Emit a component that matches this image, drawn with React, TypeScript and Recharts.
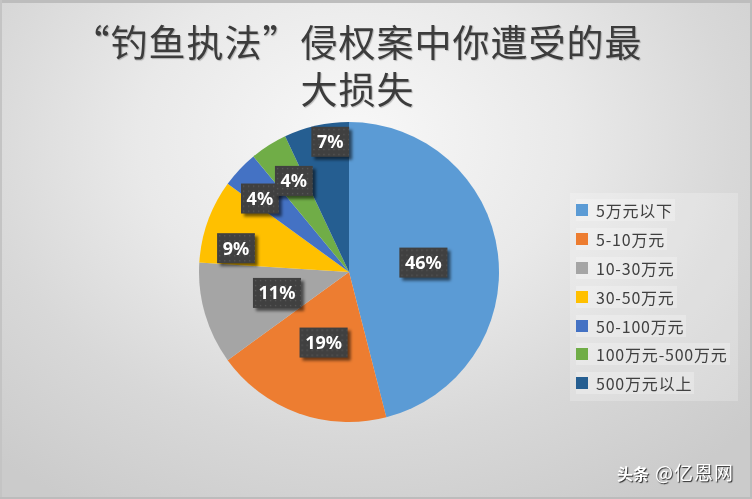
import React from 'react';
import { PieChart, Pie, Legend } from 'recharts';

const categories = ['5万元以下', '5-10万元', '10-30万元', '30-50万元', '50-100万元', '100万元-500万元', '500万元以上'];
const shares = [46, 19, 11, 9, 4, 4, 7];
const sliceColors = ['#5B9BD5', '#ED7D31', '#A5A5A5', '#FFC000', '#4472C4', '#70AD47', '#255E91'];
const titleText = '“钓鱼执法”侵权案中你遭受的最大损失';
const watermarkA = '头条';
const watermarkB = '@亿恩网';

const data = categories.map((name, i) => ({ name, value: shares[i], fill: sliceColors[i] }));

// label placement (Excel best-fit): fraction of outer radius, clockwise angular shift in degrees
const labelRadius = [0.5, 0.5, 0.5, 0.77, 0.77, 0.71, 0.877];
const labelShift = [0, 0, 0, -7.9, -3.7, 1.2, 4.4];

const RAD = Math.PI / 180;
const CJK = "'Noto Sans CJK SC', 'Noto Sans', sans-serif";

function renderLabel(props: any) {
  const { cx, cy, midAngle, outerRadius, percent, index } = props;
  const r = outerRadius * labelRadius[index];
  const a = (midAngle - labelShift[index]) * RAD;
  const x = cx + r * Math.cos(a);
  const y = cy - r * Math.sin(a);
  const text = `${Math.round(percent * 100)}%`;
  const digits = text.length - 1;
  const w = 27.5 + 10.3 * digits;
  const h = 30;
  const bx = x - w / 2;
  const by = y - h / 2;
  return (
    <g key={`lbl-${index}`}>
      <defs>
        <pattern id={`dots${index}`} x={bx} y={by} width={5} height={5} patternUnits="userSpaceOnUse">
          <rect width={5} height={5} fill="#404040" />
          <rect x={2} y={2} width={1.3} height={1.3} fill="#585858" />
        </pattern>
        <filter id={`sh${index}`} x="-30%" y="-30%" width="160%" height="160%">
          <feGaussianBlur stdDeviation={1.6} />
        </filter>
      </defs>
      <rect x={bx + 3} y={by + 3} width={w} height={h} fill="rgba(0,0,0,0.55)" filter={`url(#sh${index})`} />
      <rect x={bx} y={by} width={w} height={h} fill={`url(#dots${index})`} />
      <text
        x={x}
        y={y + 6.5}
        textAnchor="middle"
        fill="#ffffff"
        fontSize={18}
        fontWeight={700}
        fontFamily="'Noto Sans', 'DejaVu Sans', sans-serif"
      >
        {text}
      </text>
    </g>
  );
}

function renderLegend(props: any) {
  const payload = [...(props.payload || [])].sort(
    (p: any, q: any) => categories.indexOf(p.value) - categories.indexOf(q.value)
  );
  return (
    <div
      style={{
        width: 168,
        height: 208,
        boxSizing: 'border-box',
        padding: '3px 0 0 6px',
        background: 'rgba(255,255,255,0.22)',
      }}
    >
      {payload.map((entry: any, i: number) => (
        <div key={`leg-${i}`} style={{ height: 28.8, display: 'flex', alignItems: 'center' }}>
          <div
            style={{
              display: 'inline-flex',
              alignItems: 'center',
              height: 22,
              paddingRight: 2,
              background: 'rgba(255,255,255,0.25)',
            }}
          >
            <span
              style={{
                display: 'inline-block',
                width: 12,
                height: 12,
                background: entry.color,
                marginRight: 8,
              }}
            />
            <span
              style={{
                fontSize: 16,
                letterSpacing: 0.8,
                color: '#404040',
                fontFamily: CJK,
                lineHeight: '22px',
                whiteSpace: 'nowrap',
              }}
            >
              {entry.value}
            </span>
          </div>
        </div>
      ))}
    </div>
  );
}

export default function App() {
  return (
    <div
      style={{
        position: 'fixed',
        left: 0,
        top: 0,
        width: 752,
        height: 499,
        overflow: 'hidden',
        background:
          'radial-gradient(ellipse 72% 85% at 47% 28%, #f8f8f8 0%, #e9e9e9 40%, #d8d8d8 70%, #cbcbcb 100%)',
      }}
    >
      <div style={{ position: 'absolute', left: 0, top: 0, width: 752, height: 3, background: '#bdbdbd' }} />
      <div style={{ position: 'absolute', left: 0, top: 0, width: 2, height: 499, background: '#c4c4c4' }} />
      <div style={{ position: 'absolute', right: 0, top: 0, width: 2, height: 499, background: '#bcbcbc' }} />
      <div style={{ position: 'absolute', left: 0, bottom: 0, width: 752, height: 2, background: '#bcbcbc' }} />
      <div
        style={{
          position: 'absolute',
          left: 65,
          top: 18,
          width: 585,
          textAlign: 'center',
          fontSize: 37,
          letterSpacing: 1,
          lineHeight: '47px',
          color: '#3c3c3c',
          fontFamily: CJK,
          textShadow: '1px 1px 1px rgba(0,0,0,0.25)',
          wordBreak: 'break-all',
        }}
      >
        {titleText}
      </div>
      <div style={{ position: 'absolute', left: 0, top: 0 }}>
        <PieChart width={752} height={499} margin={{ top: 0, right: 0, bottom: 0, left: 0 }}>
          <Pie
            data={data}
            dataKey="value"
            nameKey="name"
            cx={349}
            cy={272}
            outerRadius={150}
            startAngle={90}
            endAngle={-270}
            stroke="none"
            isAnimationActive={false}
            labelLine={false}
            label={renderLabel}
          />
          <Legend
            layout="vertical"
            align="right"
            verticalAlign="top"
            itemSorter={null as any}
            content={renderLegend}
            wrapperStyle={{ left: 570, top: 193, width: 168, height: 208 }}
          />
        </PieChart>
      </div>
      <div
        style={{
          position: 'absolute',
          left: 617,
          top: 458,
          color: '#ffffff',
          fontFamily: CJK,
          whiteSpace: 'nowrap',
          textShadow: '1px 1px 1px rgba(0,0,0,0.8)',
        }}
      >
        <span style={{ fontSize: 16, fontWeight: 700 }}>{watermarkA}</span>
        <span style={{ fontSize: 19, marginLeft: 6, letterSpacing: 1 }}>{watermarkB}</span>
      </div>
    </div>
  );
}
